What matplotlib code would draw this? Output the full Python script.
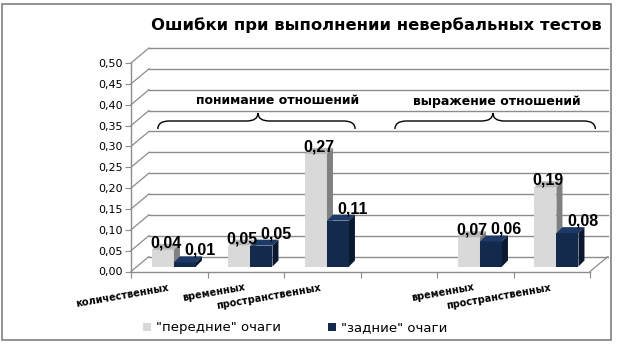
import numpy as np
import matplotlib
matplotlib.use("Agg")
import matplotlib.pyplot as plt
from matplotlib.patches import Polygon, Rectangle, Patch
from matplotlib.path import Path
from matplotlib.patches import PathPatch
from matplotlib.transforms import offset_copy

# ---------------- data ----------------
categories = ["количественных", "временных", "пространственных", "",
              "временных", "пространственных"]
front_vals = [0.04, 0.05, 0.27, np.nan, 0.07, 0.19]   # "передние" очаги
back_vals = [0.01, 0.05, 0.11, np.nan, 0.06, 0.08]    # "задние" очаги
front_labels = ["0,04", "0,05", "0,27", "", "0,07", "0,19"]
back_labels = ["0,01", "0,05", "0,11", "", "0,06", "0,08"]
yticks = [0.0, 0.05, 0.10, 0.15, 0.20, 0.25, 0.30, 0.35, 0.40, 0.45, 0.50]
group_titles = ["понимание отношений", "выражение отношений"]
series_names = ['"передние" очаги', '"задние" очаги']
title = "Ошибки при выполнении невербальных тестов"

# ---------------- style ----------------
W, H, DPI = 621, 358, 100
light_front, light_side, light_top = "#d9d9d9", "#808080", "#b8b8b8"
dark_front, dark_side, dark_top = "#132a4d", "#0b1930", "#1d3a66"
grid_c = "#8c8c8c"

fig = plt.figure(figsize=(W / DPI, H / DPI), dpi=DPI)
fig.patch.set_facecolor("white")

# axes: front plane of the pseudo-3D box
x0p, x1p, y0p, y1p = 131, 590, 271.5, 63
ax = fig.add_axes([x0p / W, 1 - y0p / H, (x1p - x0p) / W, (y0p - y1p) / H])
ax.set_xlim(0, 6)
ax.set_ylim(0, 0.5)
ax.patch.set_alpha(0)
for s in ["top", "right"]:
    ax.spines[s].set_visible(False)
for s in ["left", "bottom"]:
    ax.spines[s].set_color(grid_c)
    ax.spines[s].set_linewidth(1.0)

px_x = (x1p - x0p) / 6.0
px_y = (y0p - y1p) / 0.5
bdx, bdy = 18 / px_x, 15 / px_y          # back-wall offset
ddx, ddy = 6 / px_x, 6 / px_y            # bar depth
bw = 22 / px_x                           # bar width
bl = 0.274                               # bar left inside category
bb = 5 / px_y                            # bar base lift

# back wall grid + side diagonals
for v in yticks:
    ax.plot([bdx, 6 + bdx], [v + bdy, v + bdy], color=grid_c, lw=1.0,
            clip_on=False, zorder=1)
    ax.plot([0, bdx], [v, v + bdy], color=grid_c, lw=0.9, clip_on=False, zorder=1)
ax.plot([6, 6 + bdx], [0, bdy], color=grid_c, lw=0.9, clip_on=False, zorder=1)

# ticks
ax.set_xticks(range(7))
ax.set_xticklabels([])
ax.tick_params(axis="x", direction="out", length=4, color=grid_c)
ax.set_yticks(yticks)
ax.set_yticklabels([f"{v:.2f}".replace(".", ",") for v in yticks],
                   fontsize=8, family="DejaVu Sans")
ax.tick_params(axis="y", direction="out", length=4, color=grid_c, pad=2)


def draw_bar(x, h, front, side, top, z):
    ax.bar(x, h, width=bw, bottom=bb, align="edge", color=front,
           edgecolor="none", zorder=z)
    t = bb + h
    ax.add_patch(Polygon([(x, t), (x + bw, t), (x + bw + ddx, t + ddy), (x + ddx, t + ddy)],
                         closed=True, facecolor=top, edgecolor="none", zorder=z))
    ax.add_patch(Polygon([(x + bw, bb), (x + bw, t), (x + bw + ddx, t + ddy), (x + bw + ddx, bb + ddy)],
                         closed=True, facecolor=side, edgecolor="none", zorder=z))


lab_front = offset_copy(ax.transData, fig=fig, x=3, y=7, units="dots")
lab_back = offset_copy(ax.transData, fig=fig, x=15, y=12, units="dots")
for i in range(len(categories)):
    fv, bv = front_vals[i], back_vals[i]
    if not np.isnan(fv):
        draw_bar(i + bl, fv, light_front, light_side, light_top, 3)
        ax.text(i + bl + bw / 2, bb + fv, front_labels[i], transform=lab_front,
                ha="center", va="center", fontsize=11.5, fontweight="bold",
                family="Liberation Sans", zorder=6, clip_on=False)
    if not np.isnan(bv):
        draw_bar(i + bl + bw, bv, dark_front, dark_side, dark_top, 4)
        ax.text(i + bl + 1.5 * bw, bb + bv, back_labels[i], transform=lab_back,
                ha="center", va="center", fontsize=11.5, fontweight="bold",
                family="Liberation Sans", zorder=6, clip_on=False)

# category labels (rotated)
cat_tr = offset_copy(ax.transData, fig=fig, x=-2, y=-11, units="dots")
for i, c in enumerate(categories):
    ax.text(i + 0.5, 0, c, transform=cat_tr, rotation=10, rotation_mode="anchor",
            ha="right", va="top", fontsize=7, fontweight="bold",
            family="DejaVu Sans", clip_on=False)

# group headings and braces
def brace(xa, xb, xtip, yb, ym, yt):
    r = 0.15
    verts = [(xa, yb), (xa, ym), (xa + r, ym), (xtip - r, ym),
             (xtip, ym), (xtip, yt), (xtip, yt),
             (xtip, ym), (xtip + r, ym), (xb - r, ym),
             (xb, ym), (xb, yb)]
    codes = [Path.MOVETO, Path.CURVE3, Path.CURVE3, Path.LINETO,
             Path.CURVE3, Path.CURVE3, Path.MOVETO,
             Path.CURVE3, Path.CURVE3, Path.LINETO,
             Path.CURVE3, Path.CURVE3]
    ax.add_patch(PathPatch(Path(verts, codes), facecolor="none", edgecolor="black",
                           lw=1.0, clip_on=False, zorder=5))

yb = (y0p - 129) / px_y
ym = (y0p - 121) / px_y
yt = (y0p - 113) / px_y
brace(0.35, 2.93, 1.66, yb, ym, yt)
brace(3.45, 6.07, 4.73, yb, ym, yt)
ax.text(1.91, (y0p - 101) / px_y, group_titles[0], ha="center", va="center",
        fontsize=9, fontweight="bold", family="DejaVu Sans", clip_on=False)
ax.text(4.78, (y0p - 101) / px_y, group_titles[1], ha="center", va="center",
        fontsize=9, fontweight="bold", family="DejaVu Sans", clip_on=False)

# title
fig.text(376.5 / W, 1 - 25 / H, title, ha="center", va="center",
         fontsize=11.8, fontweight="bold", family="DejaVu Sans")

# legend
handles = [Patch(facecolor=light_front, edgecolor="none"),
           Patch(facecolor=dark_front, edgecolor="none")]
fig.legend(handles, series_names, loc="center left",
           bbox_to_anchor=(143 / W, 1 - 328 / H), ncol=2, frameon=False,
           handlelength=0.6, handleheight=0.6, handletextpad=0.35,
           columnspacing=3.6, borderpad=0, borderaxespad=0,
           prop={"family": "DejaVu Sans", "size": 9.5})

# chart border
fig.add_artist(Rectangle((2 / W, 1 - 340 / H), 609 / W, 336 / H,
                         transform=fig.transFigure, fill=False,
                         edgecolor="#808080", lw=1.2))

fig.savefig("out.png", dpi=DPI)
